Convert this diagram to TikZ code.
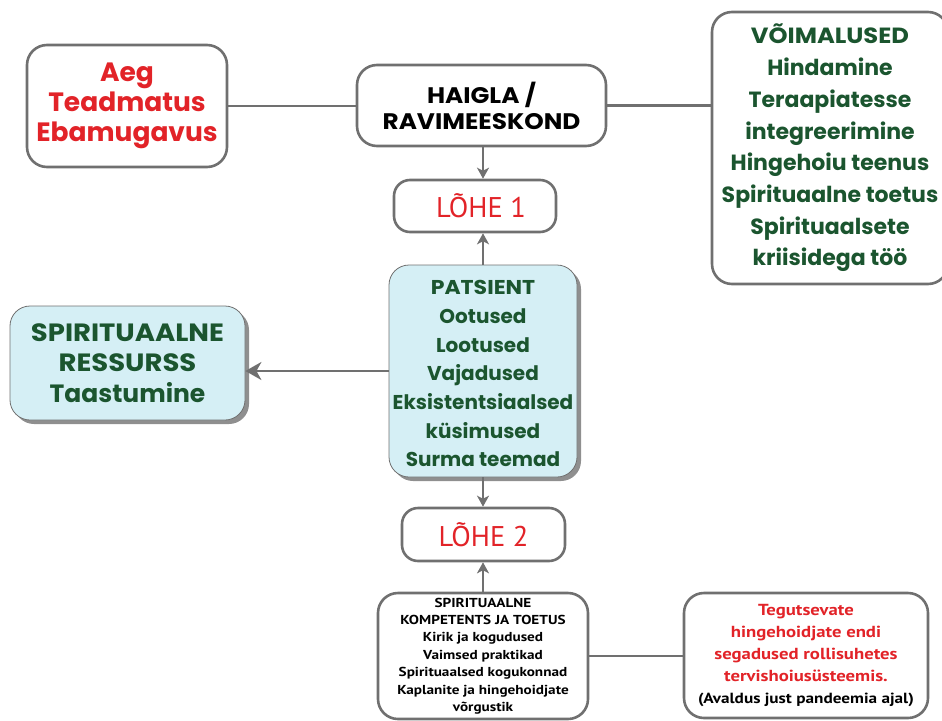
\documentclass[tikz,border=0pt]{standalone}
\usepackage{fontspec}
\setmainfont{Poppins}
\newfontfamily\popw{Poppins}[FakeStretch=1.1]
\newfontfamily\myr{PT Sans}
\newfontfamily\myrw{PT Sans}[FakeStretch=1.17]
\usetikzlibrary{arrows.meta,shadows,calc}
\definecolor{cred}{RGB}{226,35,40}
\definecolor{cgreen}{RGB}{27,85,47}
\definecolor{cgray}{RGB}{112,112,112}
\definecolor{ccyan}{RGB}{213,239,245}
\tikzset{
  wbox/.style={draw=cgray, line width=2.6pt, fill=white, rounded corners=20pt, align=center, inner sep=0pt},
  cbox/.style={draw=cgray, line width=0.8pt, fill=ccyan, rounded corners=20pt, align=center, inner sep=0pt,
     drop shadow={shadow xshift=4pt, shadow yshift=-4pt, opacity=0.55, fill=black!80}},
  conn/.style={draw=cgray, line width=2.6pt},
  arr/.style={draw=cgray, line width=2.2pt, -{Stealth[length=11pt,width=12pt,inset=3pt]}},
  bigarr/.style={draw=cgray, line width=2.6pt, -{Stealth[length=16pt,width=18pt,inset=5pt]}},
}
\begin{document}
\begin{tikzpicture}[x=1pt,y=-1pt]
\useasboundingbox (0,0) rectangle (942,720);
\coordinate (ax) at (483,0);
\node[wbox, minimum width=200pt, minimum height=122pt, text=cred,
  font=\bfseries\fontsize{26.5}{30}\selectfont] (aeg) at (127,106)
  {Aeg\\Teadmatus\\Ebamugavus};
\node[wbox, minimum width=249pt, minimum height=81pt,
  font=\popw\bfseries\fontsize{22.5}{26}\selectfont] (haigla) at (481.5,105.5)
  {HAIGLA /\\RAVIMEESKOND};
\node[wbox, minimum width=236pt, minimum height=272pt, text=cgreen,
  font=\bfseries\fontsize{22}{31.7}\selectfont] (voim) at (830,148)
  {\popw\bfseries VÕIMALUSED\\Hindamine\\Teraapiatesse\\integreerimine\\Hingehoiu teenus\\Spirituaalne toetus\\Spirituaalsete\\kriisidega töö};
\node[wbox, rounded corners=16pt, minimum width=162pt, minimum height=52pt, text=cred,
  font=\myr\fontsize{28.5}{32}\selectfont] (lohe1) at (475,206)
  {\hspace*{12pt}LÕHE 1};
\node[cbox, minimum width=188pt, minimum height=212pt, text=cgreen,
  font=\bfseries\fontsize{20}{28.7}\selectfont] (pat) at (483,371)
  {\raisebox{-4pt}[\height][\depth]{\begin{tabular}{@{}c@{}}\popw\bfseries PATSIENT\\Ootused\\Lootused\\Vajadused\\Eksistentsiaalsed\\küsimused\\Surma teemad\end{tabular}}};
\node[cbox, minimum width=235pt, minimum height=114pt, text=cgreen,
  font=\bfseries\fontsize{25}{30.5}\selectfont] (spir) at (127.5,363)
  {\popw\bfseries SPIRITUAALNE\\\popw\bfseries RESSURSS\\Taastumine};
\node[wbox, rounded corners=16pt, minimum width=163pt, minimum height=53pt, text=cred,
  font=\myr\fontsize{28.5}{32}\selectfont] (lohe2) at (483.5,534.5)
  {LÕHE 2};
\node[wbox, minimum width=210pt, minimum height=126pt,
  font=\myrw\bfseries\fontsize{13}{17.4}\selectfont] (komp) at (483,656)
  {SPIRITUAALNE\\KOMPETENTS JA TOETUS\\Kirik ja kogudused\\Vaimsed praktikad\\Spirituaalsed kogukonnad\\Kaplanite ja hingehoidjate\\võrgustik};
\node[wbox, minimum width=244pt, minimum height=125pt,
  font=\myrw\bfseries\fontsize{16}{22}\selectfont] (tegu) at (806,655.5)
  {\color{cred}Tegutsevate\\\color{cred}hingehoidjate endi\\\color{cred}segadused rollisuhetes\\\color{cred}tervishoiusüsteemis.\\\fontsize{14.7}{22}\selectfont\color{black}(Avaldus just pandeemia ajal)};
\draw[conn] (aeg.east) -- (aeg.east -| haigla.west);
\draw[conn] (haigla.east) -- (haigla.east -| voim.west);
\draw[arr] (haigla.south -| ax) -- (lohe1.north -| ax);
\draw[arr] (pat.north -| ax) -- (lohe1.south -| ax);
\draw[arr] (pat.south -| ax) -- (lohe2.north -| ax);
\draw[arr] (komp.north -| ax) -- (lohe2.south -| ax);
\draw[bigarr] (pat.west) -- (pat.west -| spir.east);
\draw[conn] (komp.east) -- (komp.east -| tegu.west);
\end{tikzpicture}
\end{document}
